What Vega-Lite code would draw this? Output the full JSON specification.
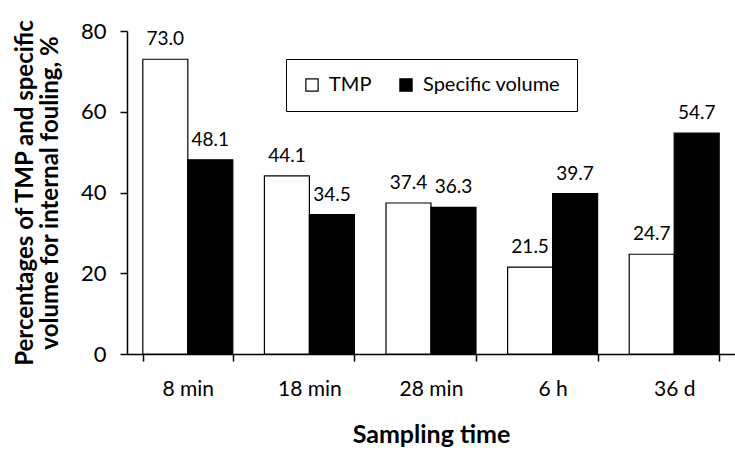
{
  "$schema": "https://vega.github.io/schema/vega-lite/v6.json",
  "autosize": "none",
  "padding": {"left": 127, "top": 31, "right": 0, "bottom": 97},
  "width": 608,
  "height": 323,
  "background": "white",
  "config": {
    "font": "Lato",
    "view": {"stroke": null},
    "axis": {"grid": false, "domainColor": "black", "tickColor": "black", "labelColor": "black", "titleColor": "black", "domainWidth": 1.5, "tickWidth": 1.5}
  },
  "data": {
    "values": [
      {"time": "8 min", "series": "TMP", "value": 73.0},
      {"time": "8 min", "series": "Specific volume", "value": 48.1},
      {"time": "18 min", "series": "TMP", "value": 44.1},
      {"time": "18 min", "series": "Specific volume", "value": 34.5},
      {"time": "28 min", "series": "TMP", "value": 37.4},
      {"time": "28 min", "series": "Specific volume", "value": 36.3},
      {"time": "6 h", "series": "TMP", "value": 21.5},
      {"time": "6 h", "series": "Specific volume", "value": 39.7},
      {"time": "36 d", "series": "TMP", "value": 24.7},
      {"time": "36 d", "series": "Specific volume", "value": 54.7}
    ]
  },
  "encoding": {
    "x": {
      "field": "time", "type": "nominal", "sort": ["8 min", "18 min", "28 min", "6 h", "36 d"],
      "scale": {"paddingInner": 0.26, "paddingOuter": 0.13},
      "axis": {"title": "Sampling time", "titleFontSize": 25, "titleFontWeight": "bold", "titlePadding": 23, "labelFontSize": 21, "labelPadding": 17, "labelAngle": 0, "tickBand": "extent", "tickSize": 7, "ticks": true}
    },
    "xOffset": {"field": "series", "type": "nominal", "sort": ["TMP", "Specific volume"]},
    "y": {
      "field": "value", "type": "quantitative",
      "scale": {"domain": [0, 80], "nice": false},
      "axis": {"values": [0, 20, 40, 60, 80], "title": ["Percentages of TMP and specific", "volume for internal fouling, %"], "titleFontSize": 24, "titleFontWeight": "bold", "titleLineHeight": 25, "titlePadding": 18, "labelFontSize": 22, "labelPadding": 14, "tickSize": 7}
    }
  },
  "layer": [
    {
      "mark": {"type": "bar", "stroke": "black", "strokeWidth": 1.2},
      "encoding": {
        "fill": {
          "field": "series", "type": "nominal", "sort": ["TMP", "Specific volume"],
          "scale": {"domain": ["TMP", "Specific volume"], "range": ["white", "black"]},
          "legend": {
            "title": null, "orient": "none", "legendX": 159, "legendY": 28, "direction": "horizontal",
            "symbolType": "square", "symbolSize": 150, "symbolStrokeColor": "black", "symbolStrokeWidth": 1.2,
            "labelFontSize": 20, "labelColor": "black", "columnPadding": 24, "labelOffset": 7,
            "strokeColor": "black", "padding": 16, "fillColor": "white"
          }
        }
      }
    },
    {
      "mark": {"type": "text", "baseline": "alphabetic", "dy": -14, "fontSize": 19, "color": "black"},
      "encoding": {"text": {"field": "value", "type": "quantitative", "format": ".1f"}}
    }
  ]
}
